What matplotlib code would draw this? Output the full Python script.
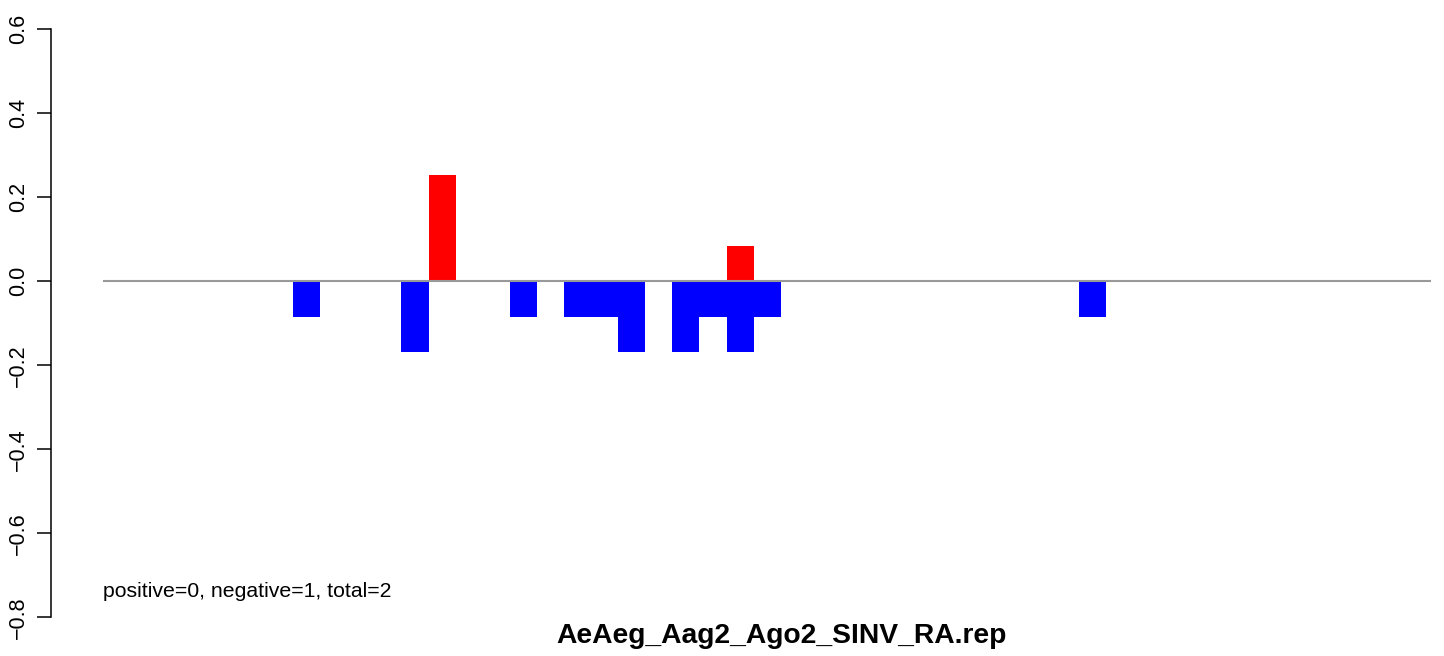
import matplotlib
matplotlib.use("Agg")
import matplotlib.pyplot as plt

# bar slots along the sequence, 49 positions
n_slots = 49
neg_pos = [7, 11, 15, 17, 18, 19, 21, 22, 23, 24, 36]
neg_val = [-0.084, -0.168, -0.084, -0.084, -0.084, -0.168, -0.168, -0.084, -0.168, -0.084, -0.084]
pos_pos = [12, 23]
pos_val = [0.252, 0.084]
yticks = [-0.8, -0.6, -0.4, -0.2, 0.0, 0.2, 0.4, 0.6]
note = "positive=0, negative=1, total=2"
title = "AeAeg_Aag2_Ago2_SINV_RA.rep"

plt.rcParams['font.family'] = ['Liberation Sans', 'DejaVu Sans']

W, H = 1444, 656
fig = plt.figure(figsize=(W / 100, H / 100), dpi=100)
ax_left = 50.7
ax = fig.add_axes([ax_left / W, 0, 1 - ax_left / W, 1])

x0, bw = 103.3, 27.1
ax.set_xlim((ax_left - x0) / bw, (W - x0) / bw)
y06, scale = 29.3, 420.0
ax.set_ylim(0.6 - (H - y06) / scale, 0.6 + y06 / scale)

ax.bar(neg_pos, neg_val, width=1, align='edge', color='#0000ff', linewidth=0)
ax.bar(pos_pos, pos_val, width=1, align='edge', color='#ff0000', linewidth=0)
ax.hlines(0, 0, n_slots, color='#999999', linewidth=1.5, zorder=5)

for s in ['top', 'right', 'bottom']:
    ax.spines[s].set_visible(False)
ax.spines['left'].set_bounds(-0.8, 0.6)
ax.spines['left'].set_linewidth(1.1)
ax.set_xticks([])
ax.set_yticks(yticks)
ax.set_yticklabels([('%.1f' % v).replace('-', '\u2212') for v in yticks],
                   rotation=90, va='center', fontsize=15.5)
ax.tick_params(axis='y', length=10, width=1.1, pad=5.5)
ax.set_facecolor('none')

ax.text(0, 0.6 - (597 - y06) / scale, note, fontsize=15.3, va='baseline', ha='left')
fig.text(781 / W, 1 - 643 / H, title, fontsize=20.3, fontweight='bold', ha='center', va='baseline')

fig.savefig('out.png', dpi=100)
